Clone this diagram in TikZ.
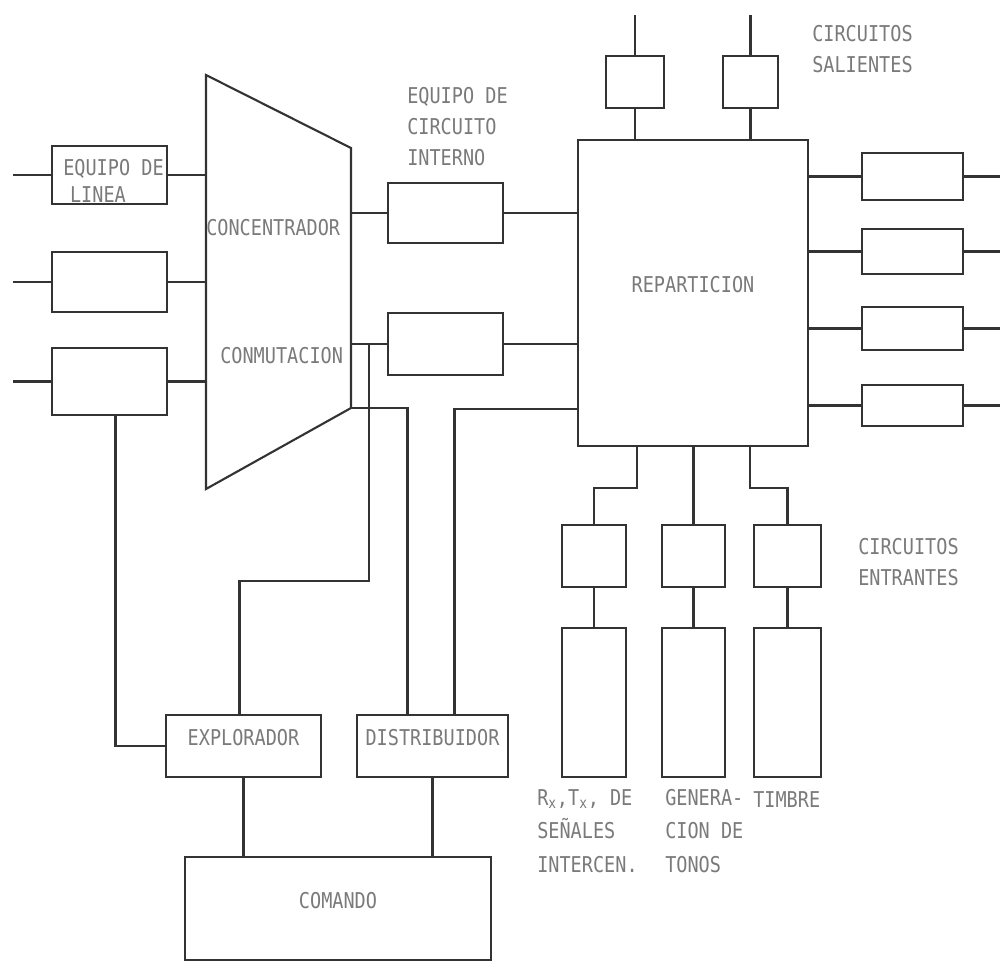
\documentclass[tikz,border=0pt]{standalone}
\usepackage{fontspec}
\usepackage{tikz}
\usetikzlibrary{fit,calc}
\newfontfamily\plotfont[FakeStretch=0.85]{DejaVu Sans Mono}
\definecolor{ink}{HTML}{333333}
\definecolor{pencil}{HTML}{7A7A7A}

\tikzset{
  blk/.style={draw=ink, line width=1.5pt, inner sep=0pt,
              font=\plotfont\fontsize{15.5}{22}\selectfont, text=pencil},
  wire/.style={draw=ink, line width=1.5pt},
  lbl/.style={font=\plotfont\fontsize{15.5}{22}\selectfont, text=pencil,
              align=left, inner sep=0pt, anchor=base west},
}

\begin{document}
\begin{tikzpicture}[x=0.025cm, y=-0.025cm]
    \useasboundingbox[fill=white] (0,0) rectangle (1001,968);

    % concentrador / conmutacion
    \coordinate (tzA) at (206,75);
    \coordinate (tzB) at (351,148);
    \coordinate (tzC) at (351,408);
    \coordinate (tzD) at (206,489);
    \draw[wire] (tzA) -- (tzB) -- (tzC) -- (tzD) -- cycle;

    \coordinate (inL) at (13,0);
    \coordinate (outT) at (0,15);
    \coordinate (outR) at (1000,0);

    \node[blk, fit={(52,146)(167,204)}] (lin1) {};
    \node[blk, fit={(52,252)(167,312)}] (lin2) {};
    \node[blk, fit={(52,348)(167,415)}] (lin3) {};
    \foreach \n in {lin1,lin2,lin3}{
        \draw[wire] (\n.west) -- (\n.west -| inL);
        \draw[wire] (\n.east) -- (\n.east -| tzA);
    }

    \node[blk, fit={(578,140)(808,446)}] (rep) {REPARTICION};
    \node[blk, fit={(388,183)(503,243)}] (int1) {};
    \node[blk, fit={(388,313)(503,375)}] (int2) {};
    \foreach \n in {int1,int2}{
        \draw[wire] (\n.west -| tzB) -- (\n.west);
        \draw[wire] (\n.east) -- (\n.east -| rep.west);
    }

    % circuitos salientes
    \node[blk, fit={(606,56)(664,108)}] (sal1) {};
    \node[blk, fit={(723,56)(778,108)}] (sal2) {};
    \foreach \n in {sal1,sal2}{
        \draw[wire] (\n.south) -- (\n.south |- rep.north);
        \draw[wire] (\n.north) -- (\n.north |- outT);
    }

    \node[blk, fit={(862,153)(963,200)}] (rc1) {};
    \node[blk, fit={(862,229)(963,274)}] (rc2) {};
    \node[blk, fit={(862,307)(963,350)}] (rc3) {};
    \node[blk, fit={(862,385)(963,426)}] (rc4) {};
    \foreach \n in {rc1,rc2,rc3,rc4}{
        \draw[wire] (\n.west) -- (\n.west -| rep.east);
        \draw[wire] (\n.east) -- (\n.east -| outR);
    }

    % circuitos entrantes
    \node[blk, fit={(562,525)(626,587)}] (ent1) {};
    \node[blk, fit={(662,525)(725,587)}] (ent2) {};
    \node[blk, fit={(754,525)(821,587)}] (ent3) {};
    \node[blk, fit={(562,628)(626,777)}] (dev1) {};
    \node[blk, fit={(662,628)(725,777)}] (dev2) {};
    \node[blk, fit={(754,628)(821,777)}] (dev3) {};
    \draw[wire] ($(rep.south)+(-56,0)$) -- ++(0,41) -| (ent1.north);
    \draw[wire] (rep.south -| ent2.north) -- (ent2.north);
    \draw[wire] ($(rep.south)+(57,0)$) -- ++(0,41) -| (ent3.north);
    \foreach \i in {1,2,3}
        \draw[wire] (ent\i.south) -- (dev\i.north);

    % control
    \node[blk, fit={(166,715)(321,777)}] (expl) {EXPLORADOR};
    \node[blk, fit={(357,715)(508,777)}] (distr) {DISTRIBUIDOR};
    \node[blk, fit={(185,857)(491,960)}] (cmd) {COMANDO};
    \draw[wire] (expl.south) -- (expl.south |- cmd.north);
    \draw[wire] (distr.south) -- (distr.south |- cmd.north);
    \draw[wire] ($(lin3.south)+(6,0)$) |- (expl.west);
    \draw[wire] ($(int2.west)+(-18,0)$) -- ++(0,237) -| ($(expl.north)+(-4,0)$);
    \draw[wire] (tzC) -| ($(distr.north)+(-25,0)$);
    \draw[wire] ($(rep.south west)+(0,-38)$) -| ($(distr.north)+(22,0)$);

    % textos (base = ultima linea)
    \node[lbl] (eqlin) at (63,202) {EQUIPO DE\\[-3pt]\hspace*{0.17cm}LINEA};
    \node[lbl] (conc) at (206,235) {CONCENTRADOR};
    \node[lbl] (conm) at (220,363) {CONMUTACION};
    \node[lbl] (eqint) at (407,165) {EQUIPO DE\\CIRCUITO\\INTERNO};
    \node[lbl] (salt) at (812,72) {CIRCUITOS\\SALIENTES};
    \node[lbl] (entt) at (858,585) {CIRCUITOS\\ENTRANTES};
    \node[lbl] (sgl) at (537,872) {R\textsubscript{x},T\textsubscript{x}, DE\\[1.5pt]SEÑALES\\[1.5pt]INTERCEN.};
    \node[lbl] (ton) at (665,872) {GENERA-\\[1.5pt]CION DE\\[1.5pt]TONOS};
    \node[lbl] (tim) at (753,807) {TIMBRE};
\end{tikzpicture}
\end{document}
